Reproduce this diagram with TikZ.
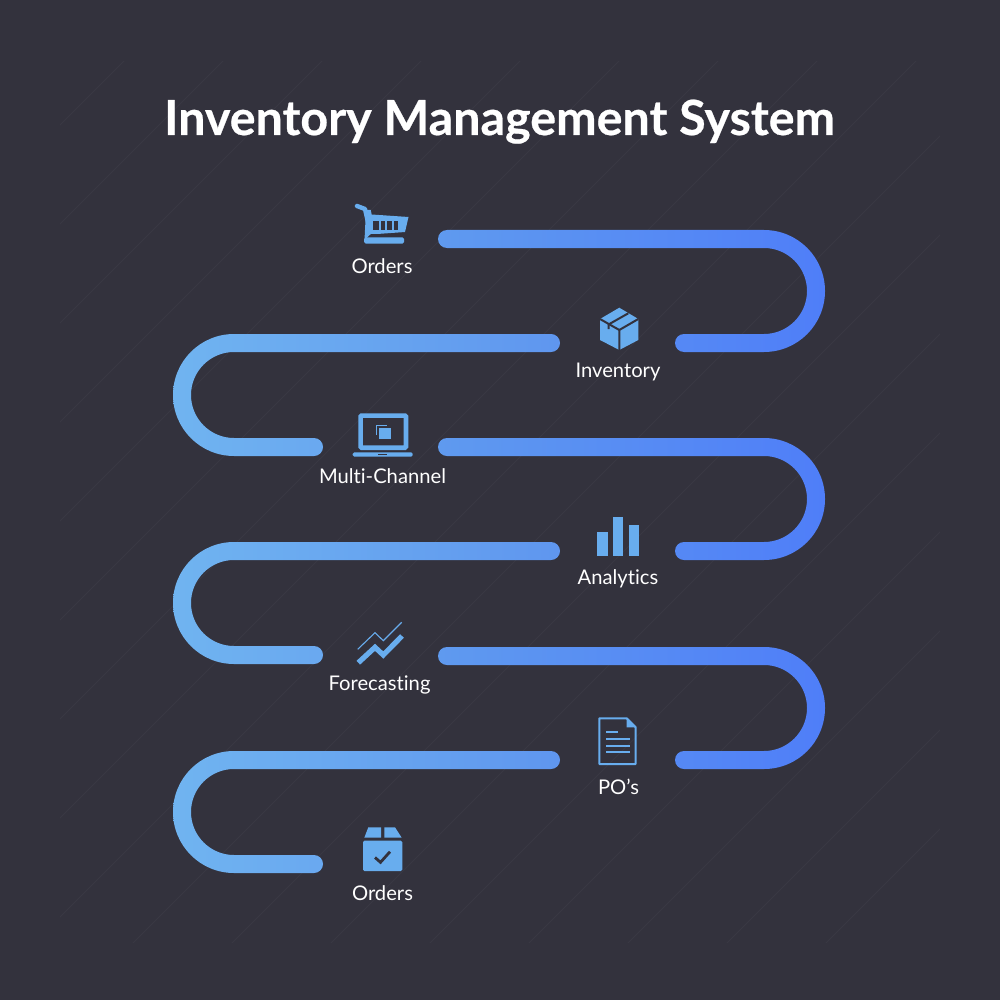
\documentclass[tikz,border=0pt]{standalone}
\usepackage{fontspec}
\setmainfont[Ligatures=NoCommon]{Lato}
\newfontfamily\ttlfont[Ligatures=NoCommon,FakeBold=0.5]{Lato Bold}
\definecolor{bgc}{HTML}{33323D}
\definecolor{linec}{HTML}{393843}
\definecolor{iconc}{HTML}{68ADEE}
\definecolor{gA}{HTML}{70B4F0}
\definecolor{gB}{HTML}{5F96EF}
\definecolor{gC}{HTML}{5F9AEF}
\definecolor{gD}{HTML}{4F7EF8}
\tikzset{
  x=1pt,y=-1pt,
  rightband/.style={left color=gC,right color=gD,draw=none},
  leftband/.style={left color=gA,right color=gB,draw=none},
  iconfill/.style={fill=iconc,draw=none},
  iconline/.style={draw=iconc,line width=2pt},
  cut/.style={draw=bgc,line width=2pt},
  bgline/.style={draw=linec,line width=0.8pt},
  lab/.style={text=white,font=\fontsize{20.2}{24}\selectfont,anchor=base,inner sep=0pt},
  ttl/.style={text=white,font=\fontsize{48.4}{54}\ttlfont,anchor=base,inner sep=0pt}
}
% Right-hand band: top edge at #1 (y grows downward)
\newcommand{\rightU}[1]{%
  \path[rightband]
    (447,#1) -- (764,#1)
    .. controls (797.7,#1) and (825,#1+27.3) .. (825,#1+61)
    .. controls (825,#1+94.7) and (797.7,#1+122) .. (764,#1+122)
    -- (684,#1+122)
    .. controls (679,#1+122) and (675,#1+118) .. (675,#1+113)
    .. controls (675,#1+108) and (679,#1+104) .. (684,#1+104)
    -- (764,#1+104)
    .. controls (787.7,#1+104) and (807,#1+84.7) .. (807,#1+61)
    .. controls (807,#1+37.3) and (787.7,#1+18) .. (764,#1+18)
    -- (447,#1+18)
    .. controls (442,#1+18) and (438,#1+14) .. (438,#1+9)
    .. controls (438,#1+4) and (442,#1) .. (447,#1) -- cycle;}
% Left-hand band: top edge at #1
\newcommand{\leftU}[1]{%
  \path[leftband]
    (551,#1) -- (234,#1)
    .. controls (200.3,#1) and (173,#1+27.3) .. (173,#1+61)
    .. controls (173,#1+94.7) and (200.3,#1+122) .. (234,#1+122)
    -- (314,#1+122)
    .. controls (319,#1+122) and (323,#1+118) .. (323,#1+113)
    .. controls (323,#1+108) and (319,#1+104) .. (314,#1+104)
    -- (234,#1+104)
    .. controls (210.3,#1+104) and (191,#1+84.7) .. (191,#1+61)
    .. controls (191,#1+37.3) and (210.3,#1+18) .. (234,#1+18)
    -- (551,#1+18)
    .. controls (556,#1+18) and (560,#1+14) .. (560,#1+9)
    .. controls (560,#1+4) and (556,#1) .. (551,#1) -- cycle;}
\begin{document}
\begin{tikzpicture}
\useasboundingbox (0,0) rectangle (1000,1000);
\fill[bgc] (0,0) rectangle (1000,1000);
% faint background diagonals
\begin{scope}
\clip (60,62) rectangle (940,942);
\foreach \s in {185,284,...,1780}
  \draw[bgline] (\s-1000,1000) -- (\s,0);
\end{scope}
% title
\node[ttl] (title) at (499.5,135) {Inventory Management System};
% bands
\rightU{230}
\leftU{334}
\rightU{438}
\leftU{542}
\rightU{647}
\leftU{751}
% cart icon
\draw[iconc,line width=4.4pt,line cap=round,line join=round] (357,206) -- (365,209) -- (368,222);
\path[iconfill] (366,210) -- (370.7,210) -- (371.7,214.5) -- (408.5,217) -- (405,232) -- (370,234.5) -- (364.5,240) -- cycle;
\path[iconfill,rounded corners=1.5pt] (364,237.5) rectangle (404,243.5);
\fill[bgc] (371,234.5) rectangle (406,237.5);
\foreach \a/\b in {373.3/378.5,380.5/385,387/391.5,393.5/398.3}
  \fill[bgc] (\a,220.7) rectangle (\b,230);
\node[lab] (orders1) at (382,273.5) {Orders};
% box icon
\path[iconfill] (619.3,307.7) -- (638.3,319) -- (638.3,340) -- (619.3,350) -- (600,340) -- (600,319) -- cycle;
\draw[cut] (600,319) -- (619.3,330) -- (638.3,319) (619.3,330) -- (619.3,350.5);
\draw[cut] (628.3,313.3) -- (608.5,324.5) -- (608.5,329);
\node[lab] (inventory) at (618,377.5) {Inventory};
% laptop icon
\draw[iconc,line width=4.6pt,rounded corners=1pt] (360.6,415.6) rectangle (406,447.7);
\path[iconfill,rounded corners=1.5pt] (352.7,452.3) -- (412.7,452.3) -- (412.7,456.7) -- (352.7,456.7) -- cycle;
\fill[bgc] (378,453.6) rectangle (387,455);
\draw[iconc,line width=0.8pt] (376,435) -- (376,425) -- (386.7,425);
\path[iconfill] (379,428.3) rectangle (390.7,439.3);
\node[lab] (multichannel) at (382.5,483) {Multi-Channel};
% bars icon
\path[iconfill] (596.7,531.7) rectangle (607.7,555.7);
\path[iconfill] (612.7,516.7) rectangle (623.3,555.7);
\path[iconfill] (629,525) rectangle (639.3,555.7);
\node[lab] (analytics) at (618,584) {Analytics};
% forecast icon
\draw[iconc,line width=1.1pt] (357.7,649.3) -- (375,632.7) -- (383.3,640.7) -- (401.7,622.3);
\draw[iconc,line width=5.2pt] (358.3,662.7) -- (375,647.3) -- (383.3,655) -- (402,636);
\node[lab] (forecasting) at (379.5,690) {Forecasting};
% document icon
\draw[iconline,line join=round] (599.3,718.3) -- (626.7,718.3) -- (635.7,727.3) -- (635.7,764) -- (599.3,764) -- cycle;
\path[iconfill] (626.7,719) -- (626.7,727.3) -- (635,727.3) -- cycle;
\draw[iconc,line width=1.8pt] (606,731.7) -- (618.3,731.7) (606,739) -- (630,739) (606,745.7) -- (630,745.7) (606,752.3) -- (630,752.3);
\node[lab] (pos) at (618.5,794) {PO’s};
% checked box icon
\path[iconfill] (368.3,827.3) -- (381,827.3) -- (381,837.7) -- (364.3,837.7) -- cycle;
\path[iconfill] (384.3,827.3) -- (395,827.3) -- (401.7,837.7) -- (384.3,837.7) -- cycle;
\path[iconfill,rounded corners=1.5pt] (363,840.7) rectangle (402.3,871);
\draw[bgc,line width=2.8pt] (375,857.5) -- (380.5,862.3) -- (390,851.7);
\node[lab] (orders2) at (382.5,900) {Orders};
\end{tikzpicture}
\end{document}
